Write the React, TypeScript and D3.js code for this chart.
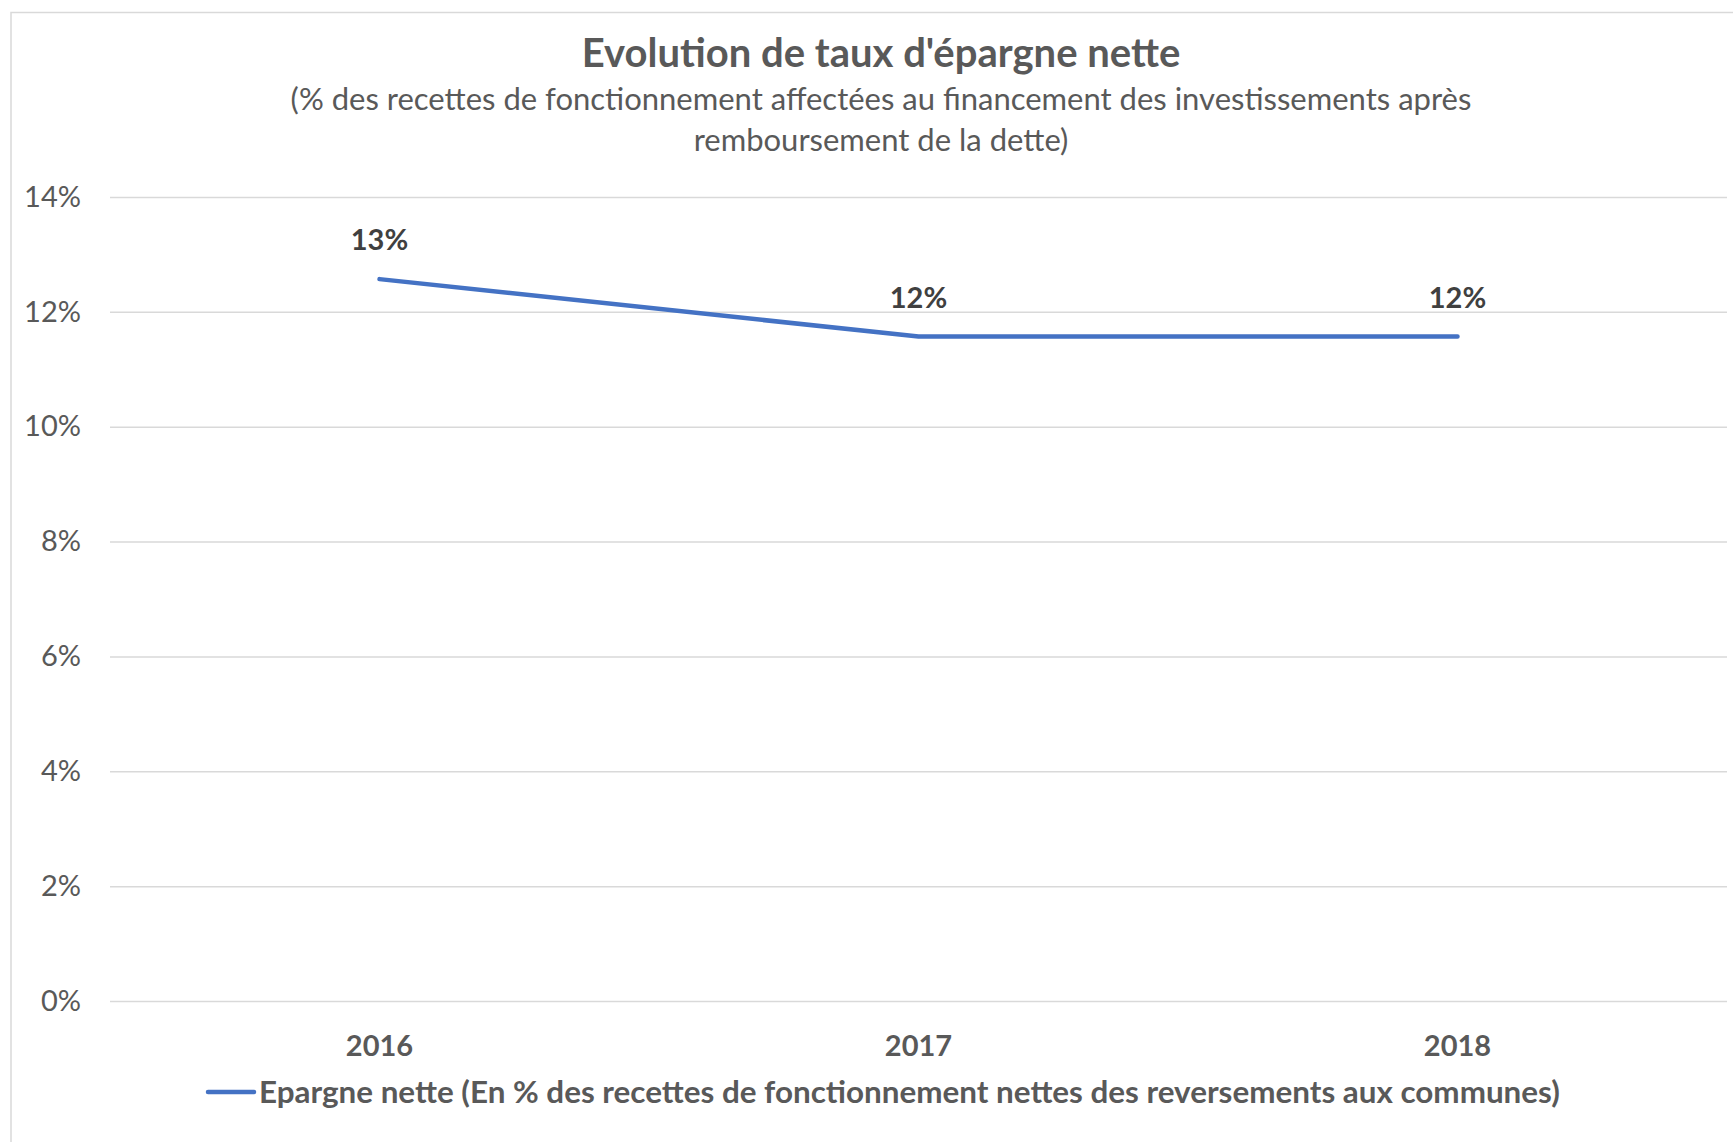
import React, { useRef, useEffect } from "react";
import * as d3 from "d3";

// chart data
const years = ["2016", "2017", "2018"];
const epargneNette = [0.1257, 0.1157, 0.1157];
const yTicks = [0, 0.02, 0.04, 0.06, 0.08, 0.1, 0.12, 0.14];

const title = "Evolution de taux d'épargne nette";
const subtitleLines = [
  "(% des recettes de fonctionnement affectées au financement des investissements après",
  "remboursement de la dette)",
];
const seriesName =
  "Epargne nette (En % des recettes de fonctionnement nettes des reversements aux communes)";

const FONT = "Lato, Carlito, Calibri, sans-serif";
const BLUE = "#4472C4";
const GREY = "#595959";

const App = () => {
  const svgRef = useRef<SVGSVGElement>(null);

  useEffect(() => {
    const w = 1733;
    const h = 1142;
    const margin = { top: 197, bottom: 141, left: 110, right: 6 };

    const svg = d3.select(svgRef.current);
    svg.selectAll("*").remove();
    svg.attr("width", w).attr("height", h).attr("viewBox", [0, 0, w, h]);

    svg
      .append("rect")
      .attr("width", w)
      .attr("height", h)
      .attr("fill", "#fff");

    // chart frame
    svg
      .append("rect")
      .attr("x", 11)
      .attr("y", 12.5)
      .attr("width", w + 20)
      .attr("height", h + 20)
      .attr("fill", "none")
      .attr("stroke", "#d9d9d9")
      .attr("stroke-width", 1.5);

    const xScale = d3
      .scaleBand()
      .domain(years)
      .range([margin.left, w - margin.right])
      .padding(0);
    const yScale = d3
      .scaleLinear()
      .domain([0, 0.14])
      .range([h - margin.bottom, margin.top]);
    const fmt = d3.format(".0%");
    const cx = (d: string) => (xScale(d) as number) + xScale.bandwidth() / 2;

    // title
    svg
      .append("text")
      .attr("x", 881)
      .attr("y", 67)
      .attr("text-anchor", "middle")
      .attr("font-family", FONT)
      .attr("font-weight", "bold")
      .attr("font-size", 40)
      .attr("fill", GREY)
      .text(title);

    svg
      .append("g")
      .selectAll("text")
      .data(subtitleLines)
      .join("text")
      .attr("x", 881)
      .attr("y", (d, i) => 110 + i * 41)
      .attr("text-anchor", "middle")
      .attr("font-family", FONT)
      .attr("font-size", 31)
      .attr("fill", GREY)
      .text((d) => d);

    // y axis: gridlines + labels
    const yAxis = (g: any) => {
      g.attr("transform", `translate(${margin.left},0)`)
        .call(
          d3
            .axisLeft(yScale)
            .tickValues(yTicks)
            .tickFormat((d: any) => fmt(d))
            .tickSize(-(w - margin.left - margin.right))
            .tickPadding(29)
        )
        .call((g: any) => g.select(".domain").remove())
        .call((g: any) =>
          g.selectAll(".tick line").attr("stroke", "#d9d9d9").attr("stroke-width", 1.5)
        )
        .call((g: any) =>
          g
            .selectAll(".tick text")
            .attr("font-family", FONT)
            .attr("font-size", 29)
            .attr("fill", GREY)
        );
    };
    svg.append("g").call(yAxis);

    // x axis labels
    const xAxis = (g: any) => {
      g.attr("transform", `translate(0,${h - margin.bottom})`)
        .call(d3.axisBottom(xScale).tickSize(0).tickPadding(34))
        .call((g: any) => g.select(".domain").remove())
        .call((g: any) =>
          g
            .selectAll(".tick text")
            .attr("font-family", FONT)
            .attr("font-weight", "bold")
            .attr("font-size", 29)
            .attr("fill", GREY)
        );
    };
    svg.append("g").call(xAxis);

    // series line
    const line = d3
      .line<number>()
      .x((d, i) => cx(years[i]))
      .y((d) => yScale(d));
    svg
      .append("path")
      .datum(epargneNette)
      .attr("d", line)
      .attr("fill", "none")
      .attr("stroke", BLUE)
      .attr("stroke-width", 4.5)
      .attr("stroke-linecap", "round")
      .attr("stroke-linejoin", "round");

    // data labels
    svg
      .append("g")
      .selectAll("text")
      .data(epargneNette)
      .join("text")
      .attr("x", (d, i) => cx(years[i]))
      .attr("y", (d) => yScale(d) - 29)
      .attr("text-anchor", "middle")
      .attr("font-family", FONT)
      .attr("font-weight", "bold")
      .attr("font-size", 29)
      .attr("fill", "#404040")
      .text((d) => fmt(d));

    // legend
    const legend = svg.append("g").attr("transform", "translate(208,1092)");
    legend
      .append("line")
      .attr("x1", 0)
      .attr("x2", 46)
      .attr("stroke", BLUE)
      .attr("stroke-width", 4.5)
      .attr("stroke-linecap", "round");
    legend
      .append("text")
      .attr("x", 51)
      .attr("y", 11)
      .attr("font-family", FONT)
      .attr("font-weight", "bold")
      .attr("font-size", 31.4)
      .attr("fill", GREY)
      .text(seriesName);
  }, []);

  return (
    <div style={{ position: "absolute", left: 0, top: 0 }}>
      <svg ref={svgRef} style={{ display: "block" }}></svg>
    </div>
  );
};

export default App;
